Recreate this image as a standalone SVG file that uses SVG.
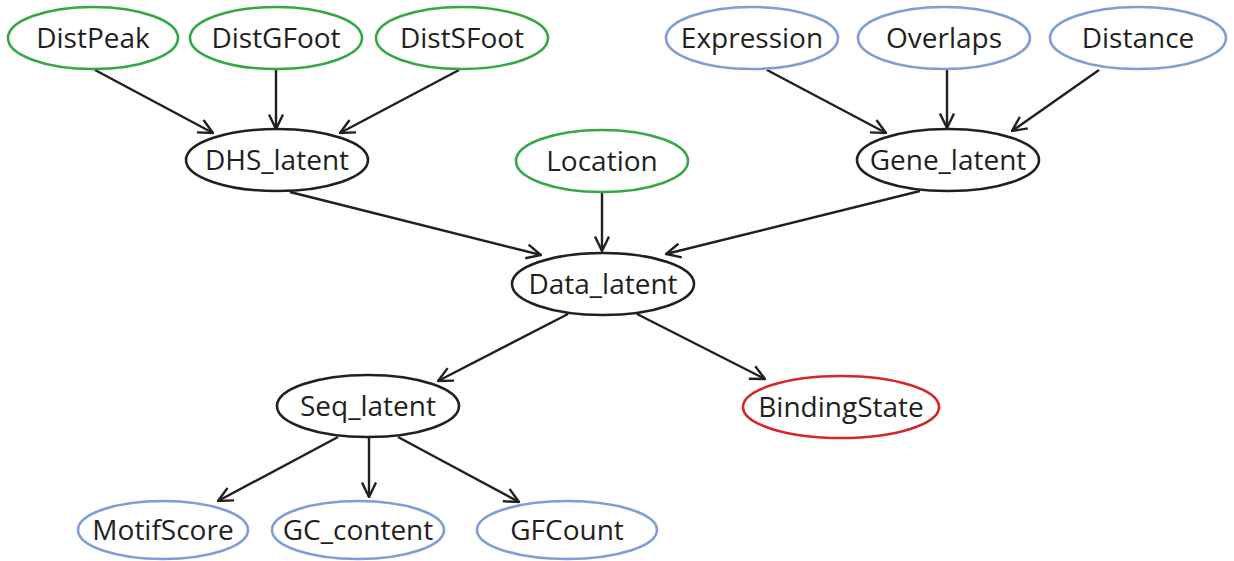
<svg xmlns="http://www.w3.org/2000/svg" width="1234" height="561" viewBox="0 0 1234 561">
  <style>
    .node ellipse { fill: #ffffff; stroke-width: 2.6; }
    .obs-g ellipse { stroke: #35a845; }
    .obs-b ellipse { stroke: #7f9ed4; }
    .lat ellipse { stroke: #231f20; }
    .tgt ellipse { stroke: #d7262b; }
    .node text { font-family: "Open Sans", "Liberation Sans", sans-serif; font-size: 28px; fill: #231f20; text-anchor: middle; }
    #edges line { stroke: #231f20; stroke-width: 2.4; fill: none; marker-end: url(#arrow); }
  </style>
  <defs>
    <marker id="arrow" viewBox="0 0 18 18" refX="17" refY="9" markerWidth="18" markerHeight="18" markerUnits="userSpaceOnUse" orient="auto">
      <path d="M2.5,2 L17,9 L2.5,16" fill="none" stroke="#231f20" stroke-width="2.4"/>
    </marker>
  </defs>

  <!-- connectors -->
  <g id="edges">
    <line x1="95" y1="70" x2="213" y2="133"/>
    <line x1="276" y1="70" x2="276" y2="129"/>
    <line x1="459" y1="70" x2="340" y2="133"/>
    <line x1="767" y1="70" x2="886" y2="133"/>
    <line x1="947" y1="70" x2="947" y2="128"/>
    <line x1="1099" y1="70" x2="1012" y2="131"/>
    <line x1="290" y1="192" x2="541" y2="255"/>
    <line x1="602" y1="193" x2="602" y2="251"/>
    <line x1="920" y1="191" x2="666" y2="254"/>
    <line x1="568" y1="314" x2="438" y2="381"/>
    <line x1="637" y1="314" x2="765" y2="379"/>
    <line x1="338" y1="437" x2="218" y2="501"/>
    <line x1="369" y1="438" x2="369" y2="497"/>
    <line x1="398" y1="437" x2="519" y2="502"/>
  </g>

  <!-- top row: observed inputs -->
  <g id="DistPeak" class="node obs-g"><ellipse cx="93" cy="38" rx="85" ry="31"/><text x="93" y="48">DistPeak</text></g>
  <g id="DistGFoot" class="node obs-g"><ellipse cx="276" cy="38" rx="86" ry="31"/><text x="276" y="48">DistGFoot</text></g>
  <g id="DistSFoot" class="node obs-g"><ellipse cx="462" cy="38" rx="86" ry="31"/><text x="462" y="48">DistSFoot</text></g>
  <g id="Expression" class="node obs-b"><ellipse cx="752" cy="38" rx="86" ry="31"/><text x="752" y="48">Expression</text></g>
  <g id="Overlaps" class="node obs-b"><ellipse cx="944" cy="38" rx="86" ry="31"/><text x="944" y="48">Overlaps</text></g>
  <g id="Distance" class="node obs-b"><ellipse cx="1138" cy="38" rx="88" ry="31"/><text x="1138" y="48">Distance</text></g>

  <!-- second row -->
  <g id="DHS_latent" class="node lat"><ellipse cx="277" cy="160" rx="91" ry="31"/><text x="277" y="170">DHS_latent</text></g>
  <g id="Location" class="node obs-g"><ellipse cx="602" cy="161" rx="86" ry="31"/><text x="602" y="171">Location</text></g>
  <g id="Gene_latent" class="node lat"><ellipse cx="948" cy="160" rx="91" ry="31"/><text x="948" y="170">Gene_latent</text></g>

  <!-- centre -->
  <g id="Data_latent" class="node lat"><ellipse cx="603" cy="284" rx="91" ry="31"/><text x="603" y="294">Data_latent</text></g>

  <!-- fourth row -->
  <g id="Seq_latent" class="node lat"><ellipse cx="368" cy="406" rx="91" ry="31"/><text x="368" y="416">Seq_latent</text></g>
  <g id="BindingState" class="node tgt"><ellipse cx="841" cy="407" rx="98" ry="31"/><text x="841" y="417">BindingState</text></g>

  <!-- bottom row -->
  <g id="MotifScore" class="node obs-b"><ellipse cx="163" cy="530" rx="85" ry="29"/><text x="163" y="540">MotifScore</text></g>
  <g id="GC_content" class="node obs-b"><ellipse cx="358" cy="530" rx="86" ry="29"/><text x="358" y="540">GC_content</text></g>
  <g id="GFCount" class="node obs-b"><ellipse cx="567" cy="530" rx="90" ry="29"/><text x="567" y="540">GFCount</text></g>
</svg>
